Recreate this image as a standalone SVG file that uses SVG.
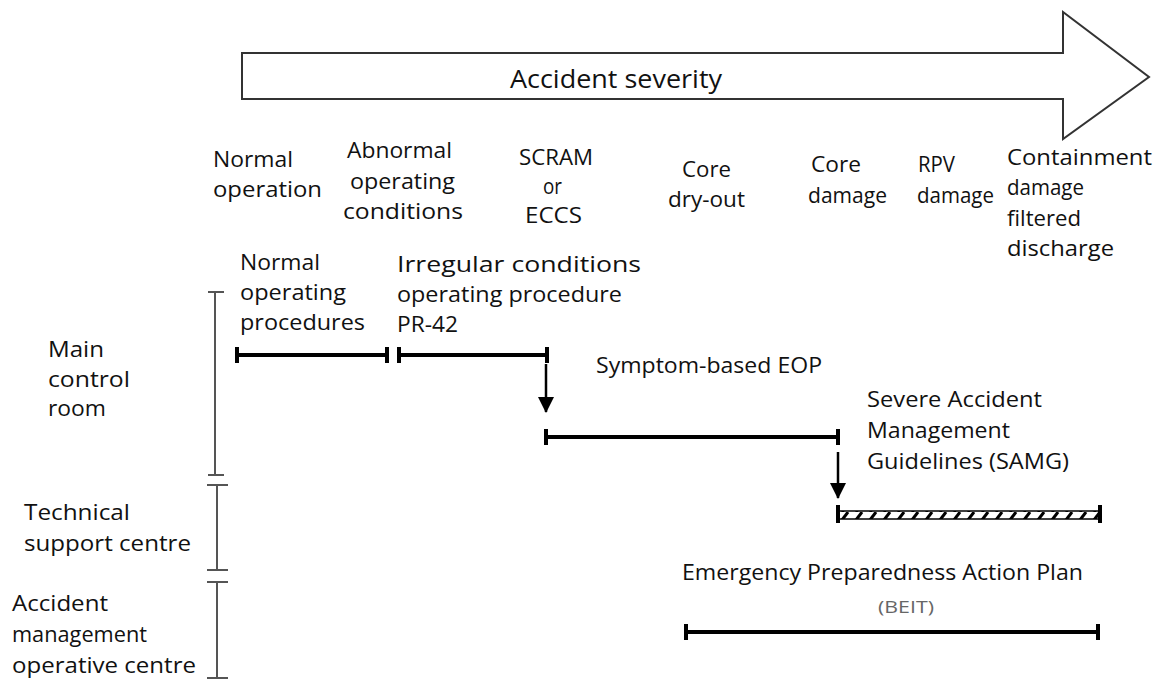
<svg xmlns="http://www.w3.org/2000/svg" width="1157" height="679" viewBox="0 0 1157 679">
<style>
text{font-family:"Open Sans","Liberation Sans",sans-serif;font-size:21px;fill:#111}
.big{font-size:26px}
.small{font-size:17px;fill:#666}
.bar{stroke:#000;stroke-width:4;fill:none}
.tick{stroke:#000;stroke-width:4}
.axis{stroke:#555;stroke-width:2;fill:none}
.arr{stroke:#000;stroke-width:2.5;fill:none}
</style>
<defs>
<marker id="ah" markerWidth="16" markerHeight="16" refX="15" refY="8" orient="auto" markerUnits="userSpaceOnUse" viewBox="0 0 16 16">
<path d="M0,0 L16,8 L0,16 Z" fill="#000"/>
</marker>
<pattern id="hatch" width="14" height="8" patternUnits="userSpaceOnUse">
<rect width="14" height="8" fill="#fff"/>
<path d="M2,8 L8,0" stroke="#000" stroke-width="3"/>
</pattern>
</defs>
<rect width="1157" height="679" fill="#fff"/>

<g id="severity-arrow">
<path d="M242,53 L1063,53 L1063,12 L1149,77 L1063,139 L1063,99 L242,99 Z" fill="#fff" stroke="#333" stroke-width="2"/>
<text class="big" x="510" y="88" textLength="212" lengthAdjust="spacingAndGlyphs">Accident severity</text>
</g>

<g id="stages">
<text x="213" y="167" textLength="80" lengthAdjust="spacingAndGlyphs">Normal</text>
<text x="213" y="197" textLength="109" lengthAdjust="spacingAndGlyphs">operation</text>
<text x="347" y="158" textLength="105" lengthAdjust="spacingAndGlyphs">Abnormal</text>
<text x="350" y="189" textLength="105" lengthAdjust="spacingAndGlyphs">operating</text>
<text x="343" y="219" textLength="120" lengthAdjust="spacingAndGlyphs">conditions</text>
<text x="519" y="165" textLength="74" lengthAdjust="spacingAndGlyphs">SCRAM</text>
<text x="543" y="194" textLength="19" lengthAdjust="spacingAndGlyphs">or</text>
<text x="525" y="223" textLength="57" lengthAdjust="spacingAndGlyphs">ECCS</text>
<text x="682" y="177" textLength="49" lengthAdjust="spacingAndGlyphs">Core</text>
<text x="668" y="207" textLength="77" lengthAdjust="spacingAndGlyphs">dry-out</text>
<text x="811" y="172" textLength="50" lengthAdjust="spacingAndGlyphs">Core</text>
<text x="808" y="203" textLength="79" lengthAdjust="spacingAndGlyphs">damage</text>
<text x="918" y="172" textLength="37" lengthAdjust="spacingAndGlyphs">RPV</text>
<text x="917" y="203" textLength="77" lengthAdjust="spacingAndGlyphs">damage</text>
<text x="1007" y="165" textLength="145" lengthAdjust="spacingAndGlyphs">Containment</text>
<text x="1007" y="195" textLength="77" lengthAdjust="spacingAndGlyphs">damage</text>
<text x="1007" y="226" textLength="74" lengthAdjust="spacingAndGlyphs">filtered</text>
<text x="1007" y="256" textLength="107" lengthAdjust="spacingAndGlyphs">discharge</text>
</g>

<g id="locations">
<text x="48" y="357" textLength="56" lengthAdjust="spacingAndGlyphs">Main</text>
<text x="48" y="387" textLength="82" lengthAdjust="spacingAndGlyphs">control</text>
<text x="48" y="416" textLength="58" lengthAdjust="spacingAndGlyphs">room</text>
<text x="24" y="520" textLength="106" lengthAdjust="spacingAndGlyphs">Technical</text>
<text x="24" y="551" textLength="167" lengthAdjust="spacingAndGlyphs">support centre</text>
<text x="12" y="611" textLength="96" lengthAdjust="spacingAndGlyphs">Accident</text>
<text x="12" y="642" textLength="135" lengthAdjust="spacingAndGlyphs">management</text>
<text x="12" y="673" textLength="184" lengthAdjust="spacingAndGlyphs">operative centre</text>
</g>

<g id="axis">
<path class="axis" d="M215,292 V475 M208,292 H224 M208,475 H224"/>
<path class="axis" d="M217,485 V570 M207,485 H228 M207,570 H228"/>
<path class="axis" d="M217,582 V678 M207,582 H228 M207,678 H228"/>
</g>

<g id="normal-procedures">
<text x="240" y="270" textLength="80" lengthAdjust="spacingAndGlyphs">Normal</text>
<text x="240" y="300" textLength="106" lengthAdjust="spacingAndGlyphs">operating</text>
<text x="240" y="330" textLength="125" lengthAdjust="spacingAndGlyphs">procedures</text>
<path class="bar" d="M237,355 H387"/>
<path class="tick" d="M237,347 V363 M387,347 V363"/>
</g>

<g id="pr42">
<text x="397" y="272" textLength="244" lengthAdjust="spacingAndGlyphs">Irregular conditions</text>
<text x="397" y="302" textLength="225" lengthAdjust="spacingAndGlyphs">operating procedure</text>
<text x="397" y="332" textLength="61" lengthAdjust="spacingAndGlyphs">PR-42</text>
<path class="bar" d="M399,355 H547"/>
<path class="tick" d="M399,347 V363 M547,347 V363"/>
</g>

<g id="eop">
<text x="596" y="373" textLength="226" lengthAdjust="spacingAndGlyphs">Symptom-based EOP</text>
<path class="bar" d="M546,437 H838"/>
<path class="tick" d="M546,429 V445 M838,429 V445"/>
</g>

<g id="samg">
<text x="867" y="407" textLength="175" lengthAdjust="spacingAndGlyphs">Severe Accident</text>
<text x="867" y="438" textLength="143" lengthAdjust="spacingAndGlyphs">Management</text>
<text x="867" y="469" textLength="202" lengthAdjust="spacingAndGlyphs">Guidelines (SAMG)</text>
<rect x="838" y="511" width="262" height="8" fill="url(#hatch)" stroke="#000" stroke-width="1.5"/>
<path class="tick" d="M838,505 V523 M1100,505 V523"/>
</g>

<g id="beit">
<text x="682" y="580" textLength="401" lengthAdjust="spacingAndGlyphs">Emergency Preparedness Action Plan</text>
<text class="small" x="878" y="613" textLength="56" lengthAdjust="spacingAndGlyphs">(BEIT)</text>
<path class="bar" d="M686,632 H1098"/>
<path class="tick" d="M686,624 V640 M1098,624 V640"/>
</g>

<g id="connectors">
<path class="arr" d="M546,364 V412" marker-end="url(#ah)"/>
<path class="arr" d="M838,452 V498" marker-end="url(#ah)"/>
</g>
</svg>
